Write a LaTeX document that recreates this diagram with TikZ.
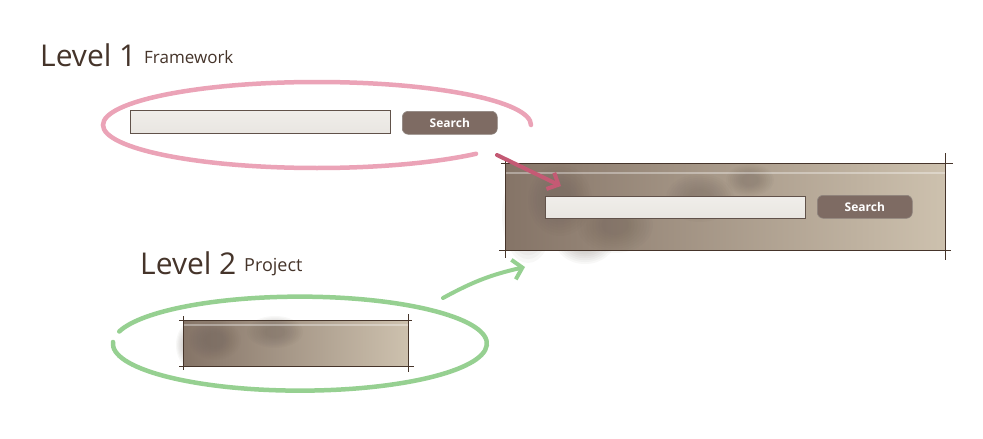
\documentclass[tikz,border=0pt]{standalone}
\usepackage{fontspec}
\setmainfont{Open Sans}
\usetikzlibrary{arrows.meta,positioning}

\definecolor{inkbrown}{HTML}{45342A}
\definecolor{ringpink}{HTML}{EBA3B7}
\definecolor{arrowpink}{HTML}{C45A74}
\definecolor{ringgreen}{HTML}{96D091}
\definecolor{barleft}{HTML}{857467}
\definecolor{barright}{HTML}{CDC1AE}
\definecolor{fieldgray}{HTML}{E9E6E1}
\definecolor{btnbrown}{HTML}{7E6B63}

\tikzset{
  title/.style={font=\fontsize{30}{34}\selectfont, text=inkbrown, inner sep=0pt, anchor=base west},
  subtitle/.style={font=\fontsize{17}{20}\selectfont, text=inkbrown, inner sep=0pt, anchor=base west},
  bar/.style={left color=barleft, right color=barright, inner sep=0pt, anchor=north west},
  field/.style={draw=inkbrown!85, line width=0.8pt, top color=fieldgray!70, bottom color=fieldgray, inner sep=0pt, anchor=north west},
  searchbtn/.style={draw=inkbrown!60, line width=0.6pt, rounded corners=6pt, fill=btnbrown, text=white,
    font=\fontsize{12}{14}\selectfont\bfseries, inner sep=0pt, anchor=north west},
  ring/.style={line width=4.5pt, line cap=round},
  sketch/.style={draw=inkbrown, line width=0.8pt},
  smudge/.style={fill=inkbrown!80, opacity=0.045},
}

% blurred blot, drawn as stacked soft ellipses
\newcommand{\blot}[4]{%
  \foreach \k in {1.0,0.92,...,0.3} {
    \fill[smudge] (#1,#2) ellipse[x radius=\k*#3, y radius=\k*#4];
  }
}

\begin{document}
\begin{tikzpicture}[x=1pt,y=-1pt]
  \useasboundingbox (0,0) rectangle (983,439);
  \fill[white] (0,0) rectangle (983,439);

  % level 1
  \node[title] (lvlone) at (40,66) {Level 1};
  \node[subtitle] (fwork) at (144,63) {Framework};
  \node[field, minimum width=260pt, minimum height=23pt] (fieldone) at (130,110) {};
  \node[searchbtn, minimum width=95pt, minimum height=23pt] (btnone) at (402,111) {Search};
  \draw[ring, ringpink] (531,125) arc[start angle=0, end angle=-318, x radius=214, y radius=43];
  \coordinate (pinkring) at (497,155);

  % result bar
  \blot{528}{215}{26}{48}
  \blot{585}{240}{30}{24}
  \node[bar, minimum width=440pt, minimum height=87pt] (bigbar) at (505,163) {};
  \blot{560}{200}{32}{36}
  \blot{615}{225}{38}{28}
  \blot{700}{198}{34}{24}
  \blot{750}{180}{24}{16}
  \draw[white, opacity=0.35, line width=1.5pt] ([yshift=-10pt]bigbar.north west) -- ([yshift=-10pt]bigbar.north east);
  \draw[sketch] ([xshift=-4pt]bigbar.north west) -- ([xshift=8pt]bigbar.north east);
  \draw[sketch] ([xshift=-6pt]bigbar.south west) -- ([xshift=6pt]bigbar.south east);
  \draw[sketch] ([yshift=6pt]bigbar.north west) -- ([yshift=-8pt]bigbar.south west);
  \draw[sketch] ([yshift=10pt]bigbar.north east) -- ([yshift=-10pt]bigbar.south east);
  \node[field, minimum width=260pt, minimum height=22pt] (fieldbig) at (545,196) {};
  \node[searchbtn, minimum width=95pt, minimum height=23pt] (btnbig) at (817,195) {Search};
  \coordinate (pinktip) at (561,186);
  \draw[arrowpink, line width=4pt, line cap=round, -{Straight Barb[length=9pt, width=18pt, line width=4pt]}] (pinkring) -- (pinktip);

  % level 2
  \node[title] (lvltwo) at (140,274) {Level 2};
  \node[subtitle, font=\fontsize{18}{20}\selectfont] (proj) at (244,271) {Project};
  \blot{190}{345}{14}{22}
  \node[bar, minimum width=225pt, minimum height=46pt] (smallbar) at (183,320) {};
  \blot{215}{340}{26}{20}
  \blot{275}{332}{28}{16}
  \draw[white, opacity=0.35, line width=1.2pt] ([yshift=-5pt]smallbar.north west) -- ([yshift=-5pt]smallbar.north east);
  \draw[sketch] ([xshift=-4pt]smallbar.north west) -- ([xshift=4pt]smallbar.north east);
  \draw[sketch] ([xshift=-4pt]smallbar.south west) -- ([xshift=6pt]smallbar.south east);
  \draw[sketch] ([yshift=4pt]smallbar.north west) -- ([yshift=-4pt]smallbar.south west);
  \draw[sketch] ([yshift=6pt]smallbar.north east) -- ([yshift=-6pt]smallbar.south east);
  \draw[ring, ringgreen] (113,342) arc[start angle=182, end angle=-165, x radius=187, y radius=47];
  \coordinate (greenring) at (443,298);
  \coordinate (greentip) at (525,267);
  \draw[ringgreen, line width=4pt, line cap=round, -{Straight Barb[length=9pt, width=20pt, line width=4pt]}]
    (greenring) to[bend left=8] (greentip);
\end{tikzpicture}
\end{document}
